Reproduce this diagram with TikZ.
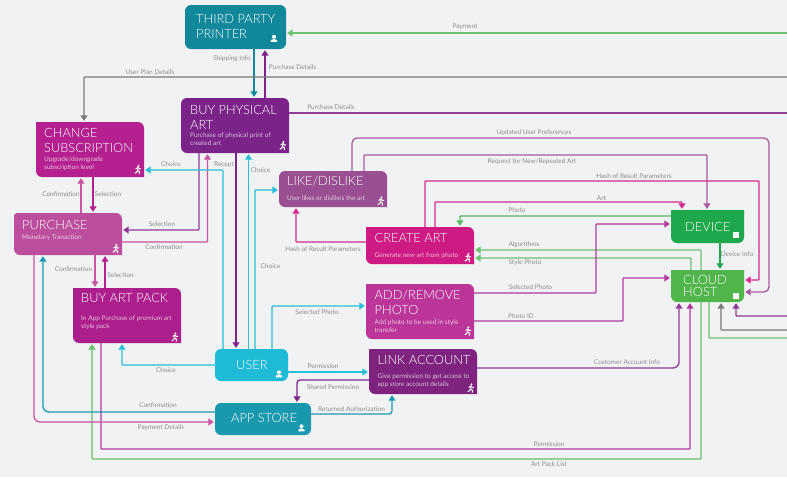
\documentclass[tikz,border=0pt]{standalone}
\usepackage{fontspec}
\setmainfont{Lato}
\newfontfamily\ttlfont{Lato Light}
\usetikzlibrary{arrows.meta,calc}
\definecolor{bg}{HTML}{F1F2F4}
\definecolor{cPrinter}{HTML}{11879A}
\definecolor{cPhys}{HTML}{7B2389}
\definecolor{cChange}{HTML}{B4208F}
\definecolor{cPurch}{HTML}{BC4E9E}
\definecolor{cPack}{HTML}{AD1F8D}
\definecolor{cUser}{HTML}{1FBAD6}
\definecolor{cStore}{HTML}{1A98AE}
\definecolor{cLike}{HTML}{9A4F92}
\definecolor{cCreate}{HTML}{CE1A83}
\definecolor{cAdd}{HTML}{BC3599}
\definecolor{cLink}{HTML}{7F237F}
\definecolor{cDevice}{HTML}{1EA84B}
\definecolor{cCloud}{HTML}{50B54A}
\definecolor{lnGreen}{HTML}{6CC070}
\definecolor{lnDeep}{HTML}{1EA84B}
\definecolor{lnGray}{HTML}{7A7A7A}
\definecolor{lnPurple}{HTML}{8E3A96}
\definecolor{lnPink}{HTML}{C9559F}
\definecolor{lnMag}{HTML}{D42A8C}
\definecolor{lnLike}{HTML}{A95A9E}
\definecolor{lnMauve}{HTML}{B03A9B}
\definecolor{lnCyan}{HTML}{28BDD8}
\definecolor{lnTeal}{HTML}{1C9BB0}
\tikzset{
  conn/.style={line width=1.3pt,rounded corners=0.8pt,-{Triangle[width=7pt,length=5.5pt]},shorten >=1pt},
  plainconn/.style={line width=1.3pt,rounded corners=0.8pt},
  lbl/.style={font=\fontsize{6.5}{8}\selectfont,text=black!45,inner sep=0pt},
  ttl/.style={font=\ttlfont\fontsize{12.8}{15}\selectfont,text=white,inner sep=0pt,anchor=north west,align=left},
  sub/.style={font=\fontsize{6.5}{7.8}\selectfont,text=white,text opacity=0.7,inner sep=0pt,anchor=north west,align=left},
  boxshape/.style={inner sep=0pt,draw=none,rectangle},
}
\newcount\labc
\newcommand{\lab}[3]{\global\advance\labc by 1 \node[lbl,name=lab\the\labc] at (#1,#2) {#3};}
% name x1 y1 x2 y2 colour r-tl r-tr r-br
\newcommand{\bx}[9]{%
  \pgfmathsetmacro{\mx}{(#2+#4)/2}\pgfmathsetmacro{\my}{(#3+#5)/2}%
  \pgfmathsetmacro{\bw}{#4-#2}\pgfmathsetmacro{\bh}{#5-#3}%
  \fill[#6] (#2,\my) [rounded corners=#7pt] -- (#2,#3) -- (\mx,#3)
     [rounded corners=#8pt] -- (#4,#3) -- (#4,\my)
     [rounded corners=#9pt] -- (#4,#5) -- (\mx,#5)
     [rounded corners=6pt] -- (#2,#5) -- (#2,\my) -- cycle;
  \node[boxshape,minimum width=\bw pt,minimum height=\bh pt] (#1) at (\mx,\my) {};}
\newcommand{\person}[2]{\fill[white,shift={(#1,#2)}] (0,-1.7) circle (2)
   (-3.2,3.4) -- (-3.2,2.2) .. controls (-3.2,0.2) and (3.2,0.2) .. (3.2,2.2) -- (3.2,3.4) -- cycle;}
\newcommand{\runner}[2]{\begin{scope}[shift={(#1,#2)},white,line width=1pt,line cap=round,line join=round]
   \fill (0.4,-3.6) circle (1.15);
   \draw (0.2,-2) -- (-0.5,1) -- (1.6,2.4) -- (1.2,4.4);
   \draw (-0.5,1) -- (-1.6,2.8) -- (-3,3.6);
   \draw (-2.2,-0.7) -- (0.2,-2) -- (1.4,-0.4) -- (2.8,-0.6);
   \end{scope}}
\newcommand{\devicon}[2]{\fill[white,shift={(#1,#2)}] (-2.6,-2.6) rectangle (2.6,2.6);}
\begin{document}
\begin{tikzpicture}[x=1pt,y=-1pt]
\fill[bg] (0,0) rectangle (787,477);
\useasboundingbox (0,0) rectangle (787,477);
% free ends
\coordinate (eA) at (787,33);
\coordinate (eB) at (787,77);
\coordinate (eC) at (787,113);
\coordinate (eD) at (787,316);
\coordinate (eE) at (787,330);
\coordinate (eF) at (787,338);
% boxes
\bx{printer}{185}{5}{286}{49}{cPrinter}{6}{6}{6}
\bx{phys}{181}{98}{289}{153}{cPhys}{6}{6}{0}
\bx{change}{36}{122}{144}{177}{cChange}{0}{6}{0}
\bx{purch}{14}{213}{122}{255}{cPurch}{3}{6}{0}
\bx{pack}{73}{288}{181}{343}{cPack}{0}{6}{0}
\bx{user}{215}{349}{288}{381}{cUser}{6}{6}{6}
\bx{store}{215}{403}{311}{435}{cStore}{6}{6}{6}
\bx{like}{279}{171}{387}{207}{cLike}{6}{6}{0}
\bx{create}{366}{227}{474}{264}{cCreate}{0}{6}{0}
\bx{add}{366}{284}{474}{339}{cAdd}{0}{6}{0}
\bx{link}{369}{349}{477}{394}{cLink}{0}{6}{0}
\bx{device}{671}{210}{744}{243}{cDevice}{0}{0}{6}
\bx{cloud}{671}{270}{744}{302}{cCloud}{0}{0}{6}
% connectors
\draw[conn,lnGreen] (eA) -- (printer.east |- 0,33);
\draw[conn,cPrinter] (printer.south -| 254,0) -- (phys.north -| 254,0);
\draw[conn,cPhys] (phys.north -| 265,0) -- (printer.south -| 265,0);
\draw[conn,lnGray] (eB) -- (84,77) -- (change.north -| 84,0);
\draw[plainconn,lnPurple] (phys.east |- 0,113) -- (eC);
\draw[conn,lnPurple] (phys.south -| 199,0) -- (199,230) -- (purch.east |- 0,230);
\draw[conn,lnPink] (purch.east |- 0,242) -- (207.5,242) -- (phys.south -| 207.5,0);
\draw[conn,lnCyan] (user.north -| 223,0) -- (223,170) -- (change.east |- 0,170);
\draw[conn,cPhys] (phys.south -| 236,0) -- (user.north -| 236,0);
\draw[conn,lnCyan] (user.north -| 248.5,0) -- (phys.south -| 248.5,0);
\draw[conn,lnCyan] (user.north -| 255,0) -- (255,190) -- (like.west |- 0,190);
\draw[conn,lnCyan] (user.north -| 272,0) -- (272,306) -- (add.west |- 0,306);
\draw[conn,lnCyan] (user.east |- 0,372) -- (link.west |- 0,372);
\draw[conn,lnCyan] (user.west |- 0,365) -- (122,365) -- (pack.south -| 122,0);
\draw[conn,lnMag] (create.west |- 0,242) -- (296,242) -- (like.south -| 296,0);
\draw[conn,lnLike,rounded corners=5pt] (like.north -| 352,0) -- (352,138) -- (769,138) -- (769,292) -- (cloud.east |- 0,292);
\draw[conn,lnLike] (like.north -| 364,0) -- (364,155) -- (707,155) -- (device.north -| 707,0);
\draw[conn,lnMag] (create.north -| 425,0) -- (425,181) -- (759,181) -- (759,280) -- (cloud.east |- 0,280);
\draw[conn,lnMag] (create.north -| 435,0) -- (435,202) -- (682,202) -- (device.north -| 682,0);
\draw[conn,lnGreen!70!lnDeep] (device.west |- 0,216) -- (460,216) -- (create.north -| 460,0);
\draw[conn,lnGreen] (cloud.north -| 701,0) -- (701,250) -- (create.east |- 0,250);
\draw[conn,lnGreen] (cloud.north -| 691,0) -- (691,258) -- (create.east |- 0,258);
\draw[conn,lnDeep] (device.south -| 720,0) -- (cloud.north -| 720,0);
\draw[conn,lnMauve] (add.east |- 0,293) -- (596,293) -- (596,224) -- (device.west |- 0,224);
\draw[conn,lnMauve] (add.east |- 0,321) -- (623,321) -- (623,278) -- (cloud.west |- 0,278);
\draw[conn,lnPurple,rounded corners=6pt] (link.east |- 0,368) -- (679,368) -- (cloud.south -| 679,0);
\draw[conn,lnMauve] (pack.south -| 101,0) -- (101,449) -- (690,449) -- (cloud.south -| 690,0);
\draw[conn,lnGreen!80!cCloud] (cloud.south -| 701,0) -- (701,459) -- (92,459) -- (pack.south -| 92,0);
\draw[plainconn,lnGreen] (cloud.south -| 709,0) -- (709,338) -- (eF);
\draw[conn,lnGray] (eE) -- (721,330) -- (cloud.south -| 721,0);
\draw[conn,lnPurple] (eD) -- (736,316) -- (cloud.south -| 736,0);
\draw[conn,lnPink] (purch.north -| 81,0) -- (change.south -| 81,0);
\draw[conn,cChange] (change.south -| 93,0) -- (purch.north -| 93,0);
\draw[conn,lnPink] (purch.south -| 95,0) -- (pack.north -| 95,0);
\draw[conn,cChange] (pack.north -| 105,0) -- (purch.south -| 105,0);
\draw[conn,lnPink,rounded corners=6pt] (purch.south -| 34,0) -- (34,422) -- (store.west |- 0,422);
\draw[conn,lnTeal,rounded corners=6pt] (store.west |- 0,412) -- (43,412) -- (purch.south -| 43,0);
\draw[conn,cPhys,rounded corners=3pt] (link.west |- 0,380) -- (297,380) -- (store.north -| 297,0);
\draw[conn,lnTeal,rounded corners=3pt] (store.east |- 0,414) -- (392,414) -- (link.south -| 392,0);
% titles
\node[ttl,name=tPrinter] at (196,14) {THIRD PARTY\\PRINTER};
\node[ttl,name=tPhys] at (190,105) {BUY PHYSICAL\\ART};
\node[ttl,name=tChange] at (44,128) {CHANGE\\SUBSCRIPTION};
\node[ttl,name=tPurch] at (22,220) {PURCHASE};
\node[ttl,name=tPack] at (81,293) {BUY ART PACK};
\node[ttl,name=tUser] at (236,360) {USER};
\node[ttl,name=tStore] at (231,413) {APP STORE};
\node[ttl,name=tLike] at (287,176) {LIKE/DISLIKE};
\node[ttl,name=tCreate] at (374.5,233) {CREATE ART};
\node[ttl,name=tAdd] at (374.5,290) {ADD/REMOVE\\PHOTO};
\node[ttl,name=tLink] at (377.5,355) {LINK ACCOUNT};
\node[ttl,name=tDevice] at (685,222) {DEVICE};
\node[ttl,name=tCloud,font=\ttlfont\fontsize{12.8}{12.5}\selectfont] at (683,275) {CLOUD\\HOST};
% subtitles
\node[sub,name=sPhys] at (190,133) {Purchase of physical print of\\created art};
\node[sub,name=sChange] at (44,156.5) {Upgrade/downgrade\\subscription level};
\node[sub,name=sPurch] at (22,235) {Monetary Tranaction};
\node[sub,name=sPack] at (81,316) {In App Purchase of promium art\\style pack};
\node[sub,name=sLike] at (287,196) {User likes or dislikes the art};
\node[sub,name=sCreate] at (374.5,252.5) {Generate new art from photo};
\node[sub,name=sAdd] at (374.5,320) {Add photo to be used in style\\transfer};
\node[sub,name=sLink] at (377.5,374) {Give permission to get access to\\app store account details};
% icons
\person{274}{38.5}
\person{279}{374}
\person{301.5}{428}
\runner{283}{145.5}
\runner{138}{169.5}
\runner{116}{248.5}
\runner{175}{337}
\runner{381}{201}
\runner{468}{257.5}
\runner{468}{331}
\runner{471}{388}
\devicon{736}{235}
\devicon{736}{296}
% labels
\lab{232}{59}{Shipping Info}
\lab{292.5}{67}{Purchase Details}
\lab{150}{72}{User Plan Details}
\lab{331}{107}{Purchase Details}
\lab{171}{164}{Choice}
\lab{224}{164.5}{Recept}
\lab{260.5}{170}{Choice}
\lab{61}{194.5}{Confirmation}
\lab{108}{194}{Selection}
\lab{162}{224}{Selection}
\lab{164}{247}{Confirmation}
\lab{73.5}{269}{Confirmation}
\lab{120.5}{275}{Selection}
\lab{270.5}{266.5}{Choice}
\lab{166}{370.5}{Choice}
\lab{317}{312.5}{Selected Photo}
\lab{323}{366.5}{Permission}
\lab{333}{387}{Shared Permission}
\lab{351.5}{409}{Returned Authorization}
\lab{158}{405.5}{Confirmation}
\lab{161}{427.5}{Payment Details}
\lab{323}{249.5}{Hash of Result Parameters}
\lab{465}{27}{Payment}
\lab{534}{133}{Updated User Preferences}
\lab{532}{162}{Request for New/Repeated Art}
\lab{634}{176.5}{Hash of Result Parameters}
\lab{601.5}{198}{Art}
\lab{517}{210}{Photo}
\lab{524}{244.5}{Algorithms}
\lab{525}{263}{Style Photo}
\lab{530.5}{287.5}{Selected Photo}
\lab{521}{316}{Photo ID}
\lab{627}{362.5}{Customer Account Info}
\lab{549}{444}{Permission}
\lab{549}{464.5}{Art Pack List}
\lab{737}{254}{Device Info}
\end{tikzpicture}
\end{document}
